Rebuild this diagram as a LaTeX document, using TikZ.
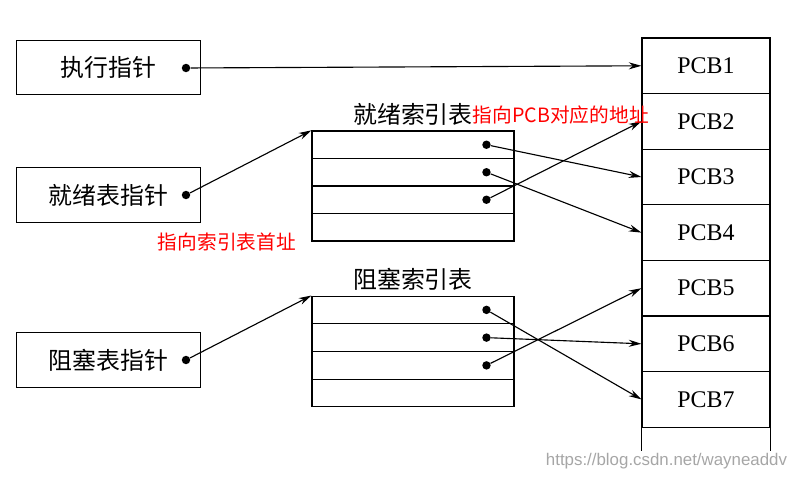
\documentclass[tikz,border=0pt]{standalone}
\usepackage{fontspec}
\setmainfont{Liberation Serif}
\newfontfamily\cjk{Noto Sans CJK SC}
\newfontfamily\wmfont{Liberation Sans}
\usetikzlibrary{arrows.meta, positioning}
\tikzset{
  ptrbox/.style={draw, thick, minimum width=4.6cm, minimum height=1.37cm, font=\cjk\fontsize{17}{17}\selectfont},
  rowbox/.style={draw, thick, minimum width=5.05cm, minimum height=0.69cm},
  pcbbox/.style={draw, thick, minimum width=3.2cm, minimum height=1.39cm, font=\fontsize{17}{17}\selectfont},
  dot/.style={circle, fill, inner sep=0pt, minimum size=6pt},
  link/.style={thick, -{Stealth[length=9pt, width=5pt]}},
  note/.style={text=red, font=\cjk\fontsize{14}{14}\selectfont}
}
\begin{document}
\begin{tikzpicture}[x=0.025cm, y=-0.025cm]
    \useasboundingbox (0,0) rectangle (799,477);

    % pointer boxes on the left
    \node[ptrbox] (run) at (108.5,67.5) {执行指针\hspace{3.2em}};
    \node[ptrbox] (ready) at (108.5,195) {就绪表指针\hspace{2.2em}};
    \node[ptrbox] (block) at (108.5,360) {阻塞表指针\hspace{2.2em}};
    \node[dot] (rund) at (186,68) {};
    \node[dot] (readyd) at (186,195) {};
    \node[dot] (blockd) at (186,360) {};

    % PCB column
    \foreach \i in {1,...,7} {
        \node[pcbbox] (pcb\i) at (706,{38+55.6*(\i-0.5)}) {PCB\i};
    }
    \draw[thick] (pcb7.south west) -- ++(0,23);
    \draw[thick] (pcb7.south east) -- ++(0,23);

    % index tables
    \foreach \i in {1,...,4} {
        \node[rowbox] (r\i) at (413,{131+27.5*(\i-0.5)}) {};
        \node[rowbox] (b\i) at (413,{296+27.75*(\i-0.5)}) {};
    }
    \node[font=\cjk\fontsize{17}{17}\selectfont, above=0pt of r1] {就绪索引表};
    \node[font=\cjk\fontsize{17}{17}\selectfont, above=0pt of b1] {阻塞索引表};
    \foreach \i in {1,2,3} {
        \node[dot] (rd\i) at ([xshift=-20] r\i.east) {};
        \node[dot] (bd\i) at ([xshift=-20] b\i.east) {};
    }

    % pointers
    \draw[link] (rund) -- (pcb1.west);
    \draw[link] (readyd) -- (r1.north west);
    \draw[link] (blockd) -- (b1.north west);
    \draw[link] (rd1) -- (pcb3.west);
    \draw[link] (rd2) -- (pcb4.west);
    \draw[link] (rd3) -- (pcb2.west);
    \draw[link] (bd1) -- (pcb7.west);
    \draw[link] (bd2) -- (pcb6.west);
    \draw[link] (bd3) -- (pcb5.west);

    % red notes
    \node[note, anchor=west] (n1) at (468,115) {指向PCB对应的地址};
    \node[note, anchor=west] (n2) at (153,242) {指向索引表首址};
    \node[text=black!35, font=\wmfont\fontsize{12}{12}\selectfont, anchor=east] (wm) at (792,461) {https://blog.csdn.net/wayneaddv};
\end{tikzpicture}
\end{document}
